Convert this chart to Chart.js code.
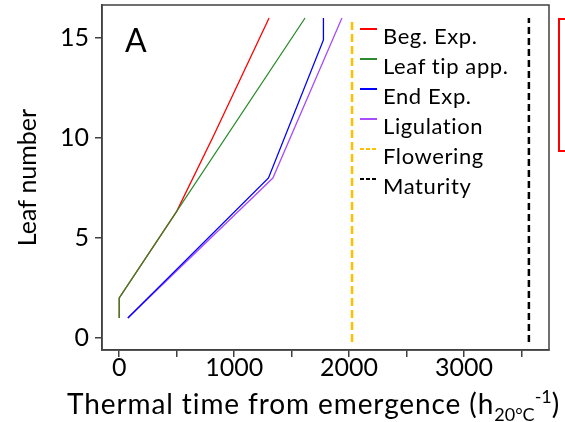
<!DOCTYPE html>
<html>
<head>
<meta charset="utf-8">
<script src="https://cdn.jsdelivr.net/npm/chart.js@4"></script>
<style>
  html, body { margin:0; padding:0; background:#fff; }
  #wrap { position:relative; width:565px; height:422px; font-family:Lato, sans-serif; color:#000; }
  #chart { position:absolute; left:0; top:0; }
  .lab-a { position:absolute; left:125px; top:24px; font-size:32px; line-height:1; }
  .xtitle { position:absolute; left:67px; top:387px; font-size:28px; line-height:1; letter-spacing:0.9px; white-space:nowrap; }
  .xtitle sub { font-size:18px; vertical-align:-7px; letter-spacing:0; }
  .xtitle sup { font-size:18px; vertical-align:11px; letter-spacing:0; }
  .legend { position:absolute; left:360px; top:21px; }
  .leg-row { position:relative; height:30px; line-height:30px; font-size:22px; letter-spacing:0.6px; padding-left:23px; white-space:nowrap; }
  .leg-line { position:absolute; left:0; top:7px; width:17px; height:2px; }
  .redbox { position:absolute; left:558px; top:18px; width:20px; height:134px; border:2px solid #f00; box-sizing:border-box; }
</style>
</head>
<body>
<div id="wrap">
  <canvas id="chart" width="565" height="422"></canvas>
  <div class="lab-a">A</div>
  <div class="legend" id="legend"></div>
  <div class="xtitle">Thermal time from emergence (h<sub>20°C</sub><sup>-1</sup>)</div>
  <div class="redbox"></div>
</div>
<script>
// ─── DATA ─────────────────────────────────────────────────────────────────────
const begExpX  = [0, 0, 500, 820, 1304];
const begExpY  = [1, 2, 6.33, 10.1, 16];
const tipAppX  = [0, 0, 1617];
const tipAppY  = [1, 2, 16];
const endExpX  = [75, 1299, 1777, 1777];
const endExpY  = [1, 8, 14.9, 16];
const ligulX   = [75, 1337, 1938];
const ligulY   = [1, 8, 16];
const flowerX  = [2026, 2026];
const flowerY  = [-0.2, 16];
const maturX   = [3565, 3565];
const maturY   = [-0.2, 16];
const xTicks   = [0, 500, 1000, 1500, 2000, 2500, 3000, 3500];
const yTicks   = [0, 5, 10, 15];
const seriesNames = ['Beg. Exp.', 'Leaf tip app.', 'End Exp.', 'Ligulation', 'Flowering', 'Maturity'];

const pts = (xs, ys) => xs.map((x, i) => ({x, y: ys[i]}));
const COLORS = ['#ff0000', '#2b8a2b', '#0000ff', '#a64dff', '#ffc000', '#000000'];

const series = [
  {data: pts(begExpX, begExpY), w: 1.3, dash: [], order: 2},
  {data: pts(tipAppX, tipAppY), w: 1.3, dash: [], order: 1},
  {data: pts(endExpX, endExpY), w: 1.3, dash: [], order: 0},
  {data: pts(ligulX, ligulY),   w: 1.3, dash: [], order: 0},
  {data: pts(flowerX, flowerY), w: 2.5, dash: [8, 4], order: 0},
  {data: pts(maturX, maturY),   w: 2.5, dash: [7, 4], order: 0},
];

// ─── LEGEND ───────────────────────────────────────────────────────────────────
document.getElementById('legend').innerHTML = seriesNames.map((n, i) => {
  const c = COLORS[i];
  const bg = series[i].dash.length
    ? `repeating-linear-gradient(to right, ${c} 0 4px, transparent 4px 6px)`
    : c;
  return `<div class="leg-row"><span class="leg-line" style="background:${bg}"></span>${n}</div>`;
}).join('');

// ─── CHART ────────────────────────────────────────────────────────────────────
const framePlugin = {
  id: 'frame',
  afterDraw(chart) {
    const {ctx, chartArea: a} = chart;
    ctx.save();
    ctx.strokeStyle = '#404040';
    ctx.lineWidth = 1.5;
    ctx.strokeRect(a.left, a.top, a.right - a.left, a.bottom - a.top);
    ctx.restore();
  }
};

new Chart(document.getElementById('chart'), {
  type: 'scatter',
  data: {datasets: series.map((s, i) => ({
    label: seriesNames[i], data: s.data, showLine: true, order: s.order,
    borderColor: COLORS[i], backgroundColor: COLORS[i],
    borderWidth: s.w, borderDash: s.dash, pointRadius: 0, tension: 0
  }))},
  options: {
    responsive: false, animation: false,
    layout: {padding: {left: 0, right: 16, top: 5, bottom: 0}},
    plugins: {legend: {display: false}, tooltip: {enabled: false}},
    scales: {
      x: {
        type: 'linear', min: -150, max: 3740,
        afterBuildTicks: s => { s.ticks = xTicks.map(v => ({value: v})); },
        afterFit: s => { s.height = 72; s.paddingLeft = 0; s.paddingRight = 0; },
        grid: {display: true, drawOnChartArea: false, drawTicks: true, tickLength: 7, color: '#404040', lineWidth: 1.5},
        border: {display: true, color: '#404040', width: 1.5},
        ticks: {color: '#000', font: {family: 'Lato', size: 25}, padding: -4, maxRotation: 0,
                callback: v => v % 1000 === 0 ? v : ''}
      },
      y: {
        type: 'linear', min: -0.6, max: 16.65,
        afterBuildTicks: s => { s.ticks = yTicks.map(v => ({value: v})); },
        afterFit: s => { s.width = 102; s.paddingTop = 0; s.paddingBottom = 0; },
        grid: {display: true, drawOnChartArea: false, drawTicks: true, tickLength: 7, color: '#404040', lineWidth: 1.5},
        border: {display: true, color: '#404040', width: 1.5},
        ticks: {color: '#000', font: {family: 'Lato', size: 25}, padding: 6},
        title: {display: true, text: 'Leaf number', color: '#000', font: {family: 'Lato', size: 25}, padding: {top: 13, bottom: 0}}
      }
    }
  },
  plugins: [framePlugin]
});
</script>
</body>
</html>
